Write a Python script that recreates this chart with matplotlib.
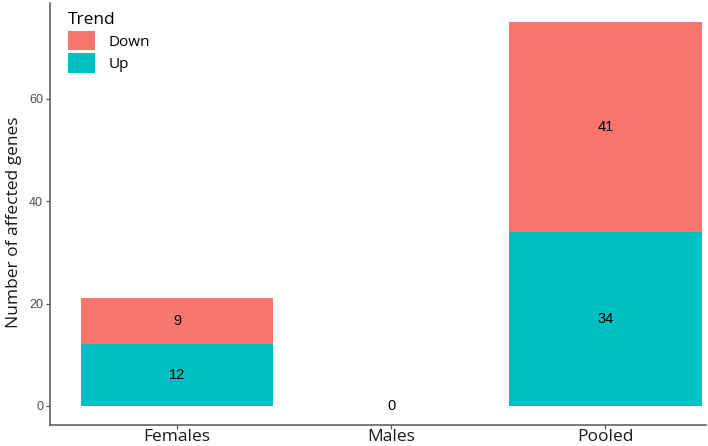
import matplotlib
matplotlib.use("Agg")
import matplotlib.pyplot as plt
import numpy as np

categories = ["Females", "Males", "Pooled"]
up = [12, 0, 34]
down = [9, 0, 41]
colors = {"Down": "#F8766D", "Up": "#00BFC4"}

plt.rcParams['font.family'] = ['Open Sans', 'DejaVu Sans']
fig = plt.figure(figsize=(7.08, 4.46), dpi=100)
ax = fig.add_axes([50/708, 21/446, 656/708, 422/446])

x = np.arange(1, len(categories) + 1)
ax.bar(x, up, width=0.9, color=colors["Up"], label="Up")
ax.bar(x, down, width=0.9, bottom=up, color=colors["Down"], label="Down")

for xi, u, d in zip(x, up, down):
    if u + d == 0:
        ax.text(xi, 0, "0", ha="center", va="center", fontsize=10.5, family="Liberation Sans")
        continue
    ax.text(xi, u / 2, str(u), ha="center", va="center", fontsize=10.5, family="Liberation Sans")
    ax.text(xi, u + d / 2, str(d), ha="center", va="center", fontsize=10.5, family="Liberation Sans")

ax.set_xlim(0.407, 3.47)
ax.set_ylim(-3.75, 78.75)
ax.set_xticks(x)
ax.set_xticklabels(categories, fontsize=12.5, color="#1a1a1a")
ax.set_yticks([0, 20, 40, 60])
ax.set_yticklabels(["0", "20", "40", "60"], fontsize=9, color="#4D4D4D", family="Liberation Sans")
fig.text(14/708, 1 - 222/446, "Number of affected genes", rotation=90, ha="center", va="center",
         fontsize=12.5, color="#1a1a1a")

for s in ["top", "right"]:
    ax.spines[s].set_visible(False)
for s in ["left", "bottom"]:
    ax.spines[s].set_color("#555555")
    ax.spines[s].set_linewidth(1.1)
ax.tick_params(axis="both", colors="#555555", length=3, width=0.9)
ax.tick_params(axis="x", labelcolor="#1a1a1a", pad=0)
ax.tick_params(axis="y", labelcolor="#4D4D4D", pad=2)

handles, labels = ax.get_legend_handles_labels()
leg = ax.legend(handles[::-1], labels[::-1], title="Trend", loc="upper left",
                bbox_to_anchor=(0.006, 1.012), frameon=False, fontsize=11,
                title_fontsize=12.5, handlelength=1.8, handleheight=1.6,
                labelspacing=0.2, handletextpad=0.9)
leg._legend_box.align = "left"

fig.savefig("out.png", dpi=100)
